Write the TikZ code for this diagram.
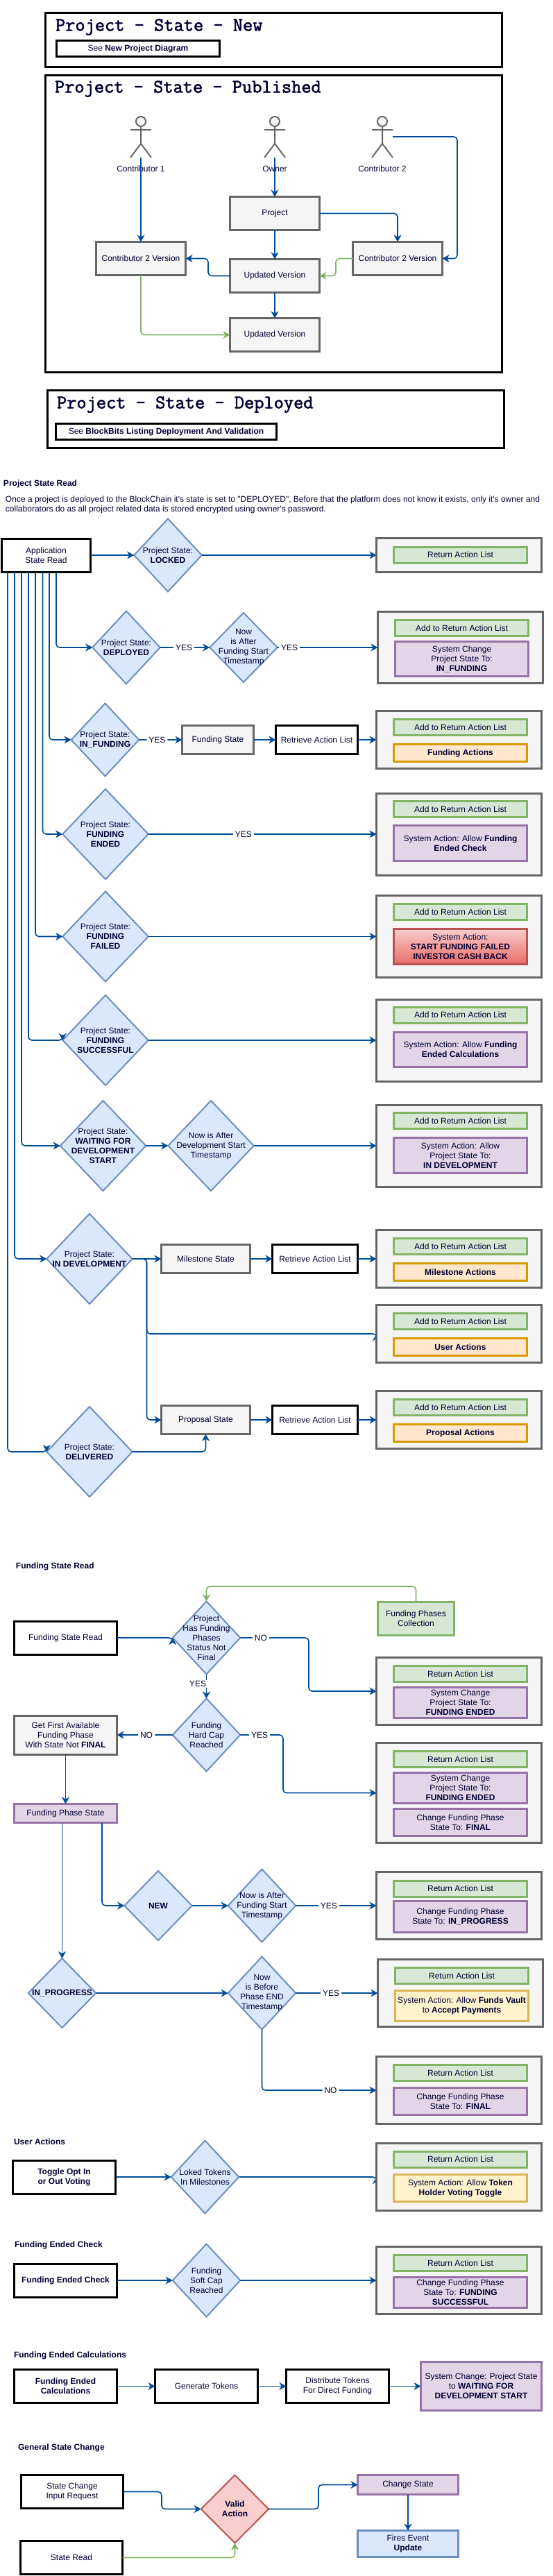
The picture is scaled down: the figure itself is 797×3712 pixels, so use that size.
\documentclass[tikz,border=0pt]{standalone}
\usepackage{fontspec}
\newfontfamily\bodyfont{Liberation Sans}
\newfontfamily\titlefont{Latin Modern Mono}[FakeBold=2]
\usetikzlibrary{shapes.geometric,arrows.meta,backgrounds}

\definecolor{navy}{HTML}{000033}
\definecolor{flowblue}{HTML}{004C99}
\definecolor{greyfill}{HTML}{F5F5F5}
\definecolor{greyline}{HTML}{666666}
\definecolor{bluefill}{HTML}{DAE8FC}
\definecolor{blueline}{HTML}{6C8EBF}
\definecolor{greenfill}{HTML}{D5E8D4}
\definecolor{greenline}{HTML}{82B366}
\definecolor{purplefill}{HTML}{E1D5E7}
\definecolor{purpleline}{HTML}{9673A6}
\definecolor{orangefill}{HTML}{FFE6CC}
\definecolor{orangeline}{HTML}{D79B00}
\definecolor{yellowfill}{HTML}{FFF2CC}
\definecolor{yellowline}{HTML}{D6B656}
\definecolor{redline}{HTML}{B85450}
\definecolor{redtop}{HTML}{F8CECC}
\definecolor{redbottom}{HTML}{EA6B66}

\tikzset{
  sz/.style 2 args={minimum width=#1,minimum height=#2},
  txt/.style={font=\bodyfont\fontsize{12}{14}\selectfont,text=navy,align=center,inner sep=0pt,outer sep=0pt},
  heading/.style={txt,anchor=west,font=\bodyfont\bfseries\fontsize{12}{14}\selectfont},
  titletxt/.style={txt,anchor=west,font=\titlefont\fontsize{27.6}{30}\selectfont},
  blackbox/.style={txt,draw=black,line width=3pt,fill=white},
  greybox/.style={txt,draw=greyline,line width=3pt,fill=greyfill},
  greenbox/.style={txt,draw=greenline,line width=3pt,fill=greenfill},
  purplebox/.style={txt,draw=purpleline,line width=3pt,fill=purplefill},
  orangebox/.style={txt,draw=orangeline,line width=3pt,fill=orangefill},
  yellowbox/.style={txt,draw=yellowline,line width=3pt,fill=yellowfill},
  redbox/.style={txt,draw=redline,line width=3pt,top color=redtop,bottom color=redbottom},
  bluebox/.style={txt,draw=blueline,line width=3pt,fill=bluefill},
  grp/.style={greybox,minimum width=238},
  act/.style={minimum width=192},
  dia/.style={txt,shape=diamond,draw=blueline,line width=2pt,fill=bluefill,minimum width=97.5,minimum height=105},
  diabig/.style={dia,minimum width=123.5,minimum height=130},
  flow/.style={draw=flowblue,line width=1.6pt,rounded corners=5pt,-{Stealth[length=10pt,width=11pt,inset=3pt]}},
  flowgreen/.style={flow,draw=greenline},
  lbl/.style={txt,fill=white,inner xsep=3pt,inner ysep=2pt},
  actor/.pic={
    \draw[draw=greyline,line width=2pt,fill=greyfill] (0,8) circle (7);
    \draw[draw=greyline,line width=2pt] (-15,20) -- (15,20) (0,15) -- (0,40) (-15,60) -- (0,40) -- (15,60);
    \coordinate (-foot) at (0,60);
    \coordinate (-side) at (15,30);
  }
}

\begin{document}
\begin{tikzpicture}[x=1pt,y=-1pt]
    \useasboundingbox (0,0) rectangle (797,3712);
    % Column of the grey result boxes and of the boxes inside them
    \def\gx{661.5}
    \def\ax{663.5}
    \def\gxb{663.5}
    \def\axb{665.5}

    % Project state boxes
    \node[blackbox,sz={658}{78}] (newbox) at (394.5,57.5) {};
    \node[titletxt] (newtitle) at (80,39) {Project - State - New};
    \node[blackbox,sz={235}{23}] (newsee) at (199,70) {See \textbf{New Project Diagram}};
    \node[blackbox,sz={658}{428}] (pubbox) at (394.5,322.5) {};
    \node[titletxt] (pubtitle) at (79,128) {Project - State - Published};
    \node[blackbox,sz={658}{83}] (depbox) at (397.5,604) {};
    \node[titletxt] (deptitle) at (82,583) {Project - State - Deployed};
    \node[blackbox,sz={318}{23}] (depsee) at (239.5,622) {See \textbf{BlockBits Listing Deployment And Validation}};

    % Actors
    \pic (cone) at (203,167) {actor};
    \pic (owner) at (396,167) {actor};
    \pic (ctwo) at (551,167) {actor};
    \node[txt] (conelab) at (203,243) {Contributor 1};
    \node[txt] (ownerlab) at (396,243) {Owner};
    \node[txt] (ctwolab) at (551,243) {Contributor 2};

    % Published versions
    \node[greybox,sz={129}{48}] (project) at (396,307.5) {Project};
    \node[greybox,sz={129}{48}] (contl) at (203,372.5) {Contributor 2 Version};
    \node[greybox,sz={129}{48}] (contr) at (573,372.5) {Contributor 2 Version};
    \node[greybox,sz={129}{48}] (updated) at (396,397.5) {Updated Version};
    \node[greybox,sz={129}{48}] (updatedb) at (396,482.5) {Updated Version};

    \draw[flow] (cone-foot) -- (contl.north);
    \draw[flow] (owner-foot) -- (project.north);
    \draw[flow] (ctwo-side) -- (659,197) |- (contr.east);
    \draw[flow] (project.east) -| (contr.north);
    \draw[flow] (project.south) -- (updated.north);
    \draw[flow] (updated.west) -- (300,397.5) |- (contl.east);
    \draw[flowgreen] (contr.west) -- (484,372.5) |- (updated.east);
    \draw[flowgreen] (contl.south) |- (updatedb.west);
    \draw[flow] (updated.south) -- (updatedb.north);

    % Project state read
    \node[heading] (readhead) at (5,697) {Project State Read};
    \node[txt,anchor=west,align=left] (readpara) at (8,727) {Once a project is deployed to the BlockChain it's state is set to "DEPLOYED", Before that the platform does not know it exists, only it's owner and\\collaborators do as all project related data is stored encrypted using owner's password.};
    \node[blackbox,sz={128}{48}] (app) at (66.5,800) {Application\\State Read};

    \node[dia] (locked) at (242,800) {};
    \node[txt] (lockedt) at (locked) {Project State:\\\textbf{LOCKED}};
    \node[grp,minimum height=49] (lockedgrp) at (\gx,800) {};
    \node[greenbox,act,minimum height=23] (lockedret) at (\ax,799.5) {Return Action List};

    \node[dia] (deployed) at (182,933) {};
    \node[txt] (deployedt) at (deployed) {Project State:\\\textbf{DEPLOYED}};
    \node[dia,minimum height=100] (nowfund) at (351,933) {};
    \node[txt] (nowfundt) at (nowfund) {Now\\is After\\Funding Start\\Timestamp};
    \node[grp,minimum height=103] (deployedgrp) at (\gxb,933) {};
    \node[greenbox,act,minimum height=23] (deployedret) at (\axb,905) {Add to Return Action List};
    \node[purplebox,act,minimum height=50] (deployedact) at (\axb,949.5) {System Change\\Project State To:\\\textbf{IN\_FUNDING}};

    \node[dia] (infunding) at (151.5,1066) {};
    \node[txt] (infundingt) at (infunding) {Project State:\\\textbf{IN\_FUNDING}};
    \node[greybox,sz={103}{41}] (fundstate) at (314,1066) {Funding State};
    \node[blackbox,sz={118}{41}] (retra) at (456.5,1066) {Retrieve Action List};
    \node[grp,minimum height=83] (infundinggrp) at (\gx,1066) {};
    \node[greenbox,act,minimum height=23] (infundingret) at (\ax,1048) {Add to Return Action List};
    \node[orangebox,act,minimum height=25] (infundingact) at (\ax,1085) {\textbf{Funding Actions}};

    \node[diabig] (ended) at (152,1202) {};
    \node[txt] (endedt) at (ended) {Project State:\\\textbf{FUNDING}\\\textbf{ENDED}};
    \node[grp,minimum height=118] (endedgrp) at (\gx,1202) {};
    \node[greenbox,act,minimum height=23] (endedret) at (\ax,1166) {Add to Return Action List};
    \node[purplebox,act,minimum height=51] (endedact) at (\ax,1215) {System Action: Allow \textbf{Funding}\\\textbf{Ended Check}};

    \node[diabig] (failed) at (152,1349.5) {};
    \node[txt] (failedt) at (failed) {Project State:\\\textbf{FUNDING}\\\textbf{FAILED}};
    \node[grp,minimum height=118] (failedgrp) at (\gx,1349.5) {};
    \node[greenbox,act,minimum height=23] (failedret) at (\ax,1314) {Add to Return Action List};
    \node[redbox,act,minimum height=51] (failedact) at (\ax,1364) {System Action:\\\textbf{START FUNDING FAILED}\\\textbf{INVESTOR CASH BACK}};

    \node[diabig] (success) at (152,1499) {};
    \node[txt] (successt) at (success) {Project State:\\\textbf{FUNDING}\\\textbf{SUCCESSFUL}};
    \node[grp,minimum height=118] (successgrp) at (\gx,1499) {};
    \node[greenbox,act,minimum height=23] (successret) at (\ax,1462.5) {Add to Return Action List};
    \node[purplebox,act,minimum height=50] (successact) at (\ax,1512.5) {System Action: Allow \textbf{Funding}\\\textbf{Ended Calculations}};

    \node[diabig] (waiting) at (148.5,1651) {};
    \node[txt] (waitingt) at (waiting) {Project State:\\\textbf{WAITING FOR}\\\textbf{DEVELOPMENT}\\\textbf{START}};
    \node[diabig] (nowdev) at (304,1651) {};
    \node[txt] (nowdevt) at (nowdev) {Now is After\\Development Start\\Timestamp};
    \node[grp,minimum height=118] (waitinggrp) at (\gx,1651) {};
    \node[greenbox,act,minimum height=23] (waitingret) at (\ax,1615) {Add to Return Action List};
    \node[purplebox,act,minimum height=51] (waitingact) at (\ax,1665) {System Action: Allow\\Project State To:\\\textbf{IN DEVELOPMENT}};

    \node[diabig] (dev) at (129,1814) {};
    \node[txt] (devt) at (dev) {Project State:\\\textbf{IN DEVELOPMENT}};
    \node[greybox,sz={128}{41}] (milestone) at (296.5,1814) {Milestone State};
    \node[blackbox,sz={123}{41}] (retrb) at (454,1814) {Retrieve Action List};
    \node[grp,minimum height=83] (devgrp) at (\gx,1814) {};
    \node[greenbox,act,minimum height=23] (devret) at (\ax,1796) {Add to Return Action List};
    \node[orangebox,act,minimum height=25] (devact) at (\ax,1833) {\textbf{Milestone Actions}};

    \node[grp,minimum height=83] (usergrp) at (\gx,1922) {};
    \node[greenbox,act,minimum height=23] (userret) at (\ax,1904) {Add to Return Action List};
    \node[orangebox,act,minimum height=25] (useract) at (\ax,1941) {\textbf{User Actions}};

    \node[greybox,sz={128}{41}] (proposal) at (296.5,2046) {Proposal State};
    \node[blackbox,sz={123}{41}] (retrc) at (454,2046) {Retrieve Action List};
    \node[grp,minimum height=83] (proposalgrp) at (\gx,2046) {};
    \node[greenbox,act,minimum height=23] (proposalret) at (\ax,2028) {Add to Return Action List};
    \node[orangebox,act,minimum height=25] (proposalact) at (\ax,2065) {\textbf{Proposal Actions}};

    \node[diabig] (delivered) at (129,2092) {};
    \node[txt] (deliveredt) at (delivered) {Project State:\\\textbf{DELIVERED}};

    % Fan of lines below the application box
    \draw[flow] (app.south -| 81,0) |- (deployed.west);
    \draw[flow] (app.south -| 71,0) |- (infunding.west);
    \draw[flow] (app.south -| 61.5,0) |- (ended.west);
    \draw[flow] (app.south -| 51,0) |- (failed.west);
    \draw[flow] (app.south -| 41,0) |- (success.west) [sharp corners] -- ++(0,-0.1);
    \draw[flow] (app.south -| 31,0) |- (waiting.west);
    \draw[flow] (app.south -| 21,0) |- (dev.west);
    \draw[flow] (app.south -| 11,0) |- (delivered.west) [sharp corners] -- ++(0,-0.1);

    \draw[flow] (app.east) -- (locked.west);
    \draw[flow] (locked.east) -- (lockedgrp.west);
    \draw[flow] (deployed.east) -- node[lbl,pos=.48] (yesa) {YES} (nowfund.west);
    \draw[flow] (nowfund.east) -- node[lbl,pos=.12] (yesb) {YES} (deployedgrp.west);
    \draw[flow] (infunding.east) -- node[lbl,pos=.42] (yesc) {YES} (fundstate.west);
    \draw[flow] (fundstate.east) -- (retra.west);
    \draw[flow] (retra.east) -- (infundinggrp.west);
    \draw[flow] (ended.east) -- node[lbl,pos=.417] (yesd) {YES} (endedgrp.west);
    \draw[flow] (failed.east) -- (failedgrp.west);
    \draw[flow] (success.east) -- (successgrp.west);
    \draw[flow] (waiting.east) -- (nowdev.west);
    \draw[flow] (nowdev.east) -- (waitinggrp.west);
    \draw[flow] (dev.east) -- (milestone.west);
    \draw[flow] (milestone.east) -- (retrb.west);
    \draw[flow] (retrb.east) -- (devgrp.west);
    \draw[flow] (dev.east) -- (211.5,1814) |- (proposal.west);
    \draw[flow] (proposal.east) -- (retrc.west);
    \draw[flow] (retrc.east) -- (proposalgrp.west);
    \draw[flow] (delivered.east) -| (proposal.south);
    \begin{pgfonlayer}{background}
        \draw[flow] (dev.east) -- (211.5,1814) |- (usergrp.west) [sharp corners] -- ++(0,0.1);
    \end{pgfonlayer}

    % Funding state read
    \node[heading] (fundhead) at (23,2257) {Funding State Read};
    \node[blackbox,sz={148}{48}] (fsr) at (94.5,2360) {Funding State Read};
    \node[dia] (hasphases) at (297.5,2360) {};
    \node[txt] (hasphasest) at (hasphases) {Project\\Has Funding\\Phases\\Status Not\\Final};
    \node[greenbox,sz={110}{48}] (phases) at (599.5,2332.5) {Funding Phases\\Collection};
    \node[grp,minimum height=97] (grpa) at (\gx,2437) {};
    \node[greenbox,act,minimum height=23] (grparet) at (\ax,2412) {Return Action List};
    \node[purplebox,act,minimum height=44] (grpaact) at (\ax,2453.5) {System Change\\Project State To:\\\textbf{FUNDING ENDED}};

    \node[dia] (hardcap) at (297.5,2500) {};
    \node[txt] (hardcapt) at (hardcap) {Funding\\Hard Cap\\Reached};
    \node[greybox,sz={148}{56}] (getfirst) at (94.5,2500) {Get First Available\\Funding Phase\\With State Not \textbf{FINAL}};
    \node[grp,minimum height=144] (grpb) at (\gx,2583.5) {};
    \node[greenbox,act,minimum height=23] (grpbret) at (\ax,2535) {Return Action List};
    \node[purplebox,act,minimum height=44] (grpbact) at (\ax,2576.5) {System Change\\Project State To:\\\textbf{FUNDING ENDED}};
    \node[purplebox,act,minimum height=39] (grpbfin) at (\ax,2626) {Change Funding Phase\\State To: \textbf{FINAL}};
    \node[purplebox,sz={148}{27}] (phasestate) at (94.5,2613) {Funding Phase State};

    \node[dia,minimum height=100] (newst) at (228,2746) {};
    \node[txt] (newstt) at (newst) {\textbf{NEW}};
    \node[dia] (nowstart) at (377.5,2746) {};
    \node[txt] (nowstartt) at (nowstart) {Now is After\\Funding Start\\Timestamp};
    \node[grp,minimum height=97] (grpc) at (\gx,2746) {};
    \node[greenbox,act,minimum height=23] (grpcret) at (\ax,2721.5) {Return Action List};
    \node[purplebox,act,minimum height=45] (grpcact) at (\ax,2762) {Change Funding Phase\\State To: \textbf{IN\_PROGRESS}};

    \node[dia,minimum height=100] (inprog) at (89.5,2872) {};
    \node[txt] (inprogt) at (inprog) {\textbf{IN\_PROGRESS}};
    \node[dia] (nowend) at (377.5,2872) {};
    \node[txt] (nowendt) at (nowend) {Now\\is Before\\Phase END\\Timestamp};
    \node[grp,minimum height=97] (grpd) at (\gxb,2872) {};
    \node[greenbox,act,minimum height=23] (grpdret) at (\axb,2847) {Return Action List};
    \node[yellowbox,act,minimum height=44] (grpdact) at (\axb,2890.5) {System Action: Allow \textbf{Funds Vault}\\to \textbf{Accept Payments}};
    \node[grp,minimum height=97] (grpe) at (\gx,3012) {};
    \node[greenbox,act,minimum height=23] (grperet) at (\ax,2987) {Return Action List};
    \node[purplebox,act,minimum height=39] (grpeact) at (\ax,3028) {Change Funding Phase\\State To: \textbf{FINAL}};

    \draw[flow] (fsr.east) -- (hasphases.west) [sharp corners] -- ++(0,0.1);
    \draw[flowgreen] (phases.north) -- (599.5,2286) -| (hasphases.north);
    \draw[flow] (hasphases.east) -- node[lbl,pos=.3] (noa) {NO} (445,2360) |- (grpa.west);
    \draw[flow] (hasphases.south) -- node[lbl,pos=.4,xshift=-12.5pt] (yese) {YES} (hardcap.north);
    \draw[flow] (hardcap.west) -- node[lbl,pos=.47] (nob) {NO} (getfirst.east);
    \draw[flow] (hardcap.east) -- node[lbl,pos=.45] (yesf) {YES} (408,2500) |- (grpb.west);
    \draw[flow] (getfirst.south) -- (phasestate.north);
    \draw[flow] (phasestate.south -| inprog.north) -- (inprog.north);
    \draw[flow] (phasestate.south -| 147,0) |- (newst.west);
    \draw[flow] (newst.east) -- (nowstart.west);
    \draw[flow] (nowstart.east) -- node[lbl,pos=.41] (yesg) {YES} (grpc.west);
    \draw[flow] (inprog.east) -- (nowend.west);
    \draw[flow] (nowend.east) -- node[lbl,pos=.43] (yesh) {YES} (grpd.west);
    \draw[flow] (nowend.south) |- node[lbl,pos=.8] (noc) {NO} (grpe.west);

    % User actions
    \node[heading] (userhead) at (20,3086) {User Actions};
    \node[blackbox,sz={148}{48}] (toggle) at (92.5,3137) {\textbf{Toggle Opt In}\\\textbf{or Out Voting}};
    \node[dia] (loked) at (295.5,3137) {};
    \node[txt] (lokedt) at (loked) {Loked Tokens\\In Milestones};
    \node[grp,minimum height=97] (togglegrp) at (\gx,3137) {};
    \node[greenbox,act,minimum height=23] (toggleret) at (\ax,3111.5) {Return Action List};
    \node[yellowbox,act,minimum height=39] (toggleact) at (\ax,3153) {System Action: Allow \textbf{Token}\\\textbf{Holder Voting Toggle}};
    \draw[flow] (toggle.east) -- (loked.west);
    \begin{pgfonlayer}{background}
        \draw[flow] (loked.east) -- (togglegrp.west) [sharp corners] -- ++(0,0.1);
    \end{pgfonlayer}

    % Funding ended check
    \node[heading] (checkhead) at (21,3235) {Funding Ended Check};
    \node[blackbox,sz={148}{48}] (check) at (94.5,3286) {\textbf{Funding Ended Check}};
    \node[dia] (softcap) at (297.5,3286) {};
    \node[txt] (softcapt) at (softcap) {Funding\\Soft Cap\\Reached};
    \node[grp,minimum height=97] (checkgrp) at (\gx,3286) {};
    \node[greenbox,act,minimum height=23] (checkret) at (\ax,3261) {Return Action List};
    \node[purplebox,act,minimum height=44] (checkact) at (\ax,3303.5) {Change Funding Phase\\State To: \textbf{FUNDING}\\\textbf{SUCCESSFUL}};
    \draw[flow] (check.east) -- (softcap.west);
    \draw[flow] (softcap.east) -- (checkgrp.west);

    % Funding ended calculations
    \node[heading] (calchead) at (20,3394) {Funding Ended Calculations};
    \node[blackbox,sz={148}{48}] (calc) at (94.5,3438.5) {\textbf{Funding Ended}\\\textbf{Calculations}};
    \node[blackbox,sz={148}{48}] (gentok) at (297.5,3438.5) {Generate Tokens};
    \node[blackbox,sz={148}{48}] (distrib) at (486.5,3438.5) {Distribute Tokens\\For Direct Funding};
    \node[purplebox,sz={174}{70}] (syschange) at (693.5,3438.5) {System Change: Project State\\to \textbf{WAITING FOR}\\\textbf{DEVELOPMENT START}};
    \draw[flow] (calc.east) -- (gentok.west);
    \draw[flow] (gentok.east) -- (distrib.west);
    \draw[flow] (distrib.east) -- (syschange.west);

    % General state change
    \node[heading] (genhead) at (26,3527) {General State Change};
    \node[blackbox,sz={147}{48}] (input) at (104,3590.5) {State Change\\Input Request};
    \node[blackbox,sz={147}{48}] (stateread) at (103,3685.5) {State Read};
    \node[dia,draw=redline,fill=redtop,minimum height=98] (valid) at (338.5,3615.5) {};
    \node[txt] (validt) at (valid) {\textbf{Valid}\\\textbf{Action}};
    \node[purplebox,sz={145}{28}] (change) at (588,3580.5) {Change State};
    \node[bluebox,sz={145}{38}] (fires) at (588,3665.5) {Fires Event\\\textbf{Update}};
    \draw[flow] (input.east) -- (233,3590.5) |- (valid.west);
    \draw[flow] (valid.east) -- (459,3615.5) |- (change.west);
    \draw[flow] (change.south) -- (fires.north);
    \draw[flowgreen] (stateread.east) -| (valid.south);
\end{tikzpicture}
\end{document}
